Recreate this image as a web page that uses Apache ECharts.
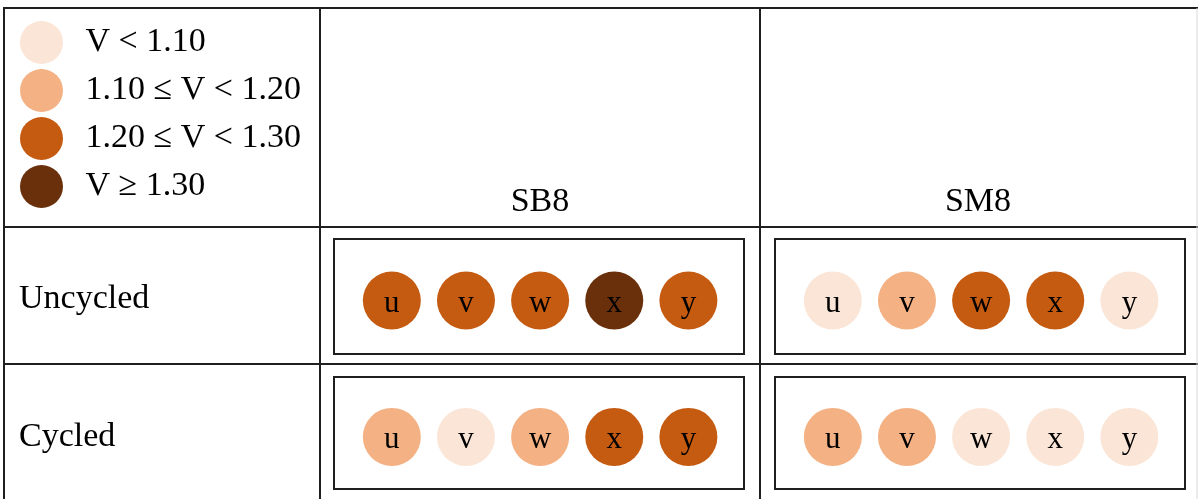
<!DOCTYPE html>
<html>
<head>
<meta charset="utf-8">
<script src="https://cdn.jsdelivr.net/npm/echarts@6/dist/echarts.min.js"></script>
<style>
html, body { margin: 0; background: #fff; }
#main { width: 1198px; height: 499px; }
</style>
</head>
<body>
<div id="main"></div>
<script>
const letters = ['u', 'v', 'w', 'x', 'y'];
const columns = ['SB8', 'SM8'];
const rows = ['Uncycled', 'Cycled'];
const levelLabels = ['V < 1.10', '1.10 ≤ V < 1.20', '1.20 ≤ V < 1.30', 'V ≥ 1.30'];
const levelColors = ['#fbe5d6', '#f4b183', '#c55a11', '#6a300c'];
// voltage class of each sample (index into levelLabels)
const sb8Uncycled = [2, 2, 2, 3, 2];
const sm8Uncycled = [0, 1, 2, 2, 0];
const sb8Cycled = [1, 0, 1, 2, 2];
const sm8Cycled = [1, 1, 0, 0, 0];

const font = '"Liberation Serif", "Times New Roman", serif';
const lineColor = '#1f1f1f';

const panels = [
  { data: sb8Uncycled, left: 334, top: 239, height: 115 },
  { data: sm8Uncycled, left: 775, top: 239, height: 115 },
  { data: sb8Cycled, left: 334, top: 377, height: 112 },
  { data: sm8Cycled, left: 775, top: 377, height: 112 }
];

const grid = panels.map(p => ({
  left: p.left, top: p.top, width: 410, height: p.height,
  show: true, borderColor: lineColor, borderWidth: 2, backgroundColor: '#fff'
}));
const xAxis = panels.map((p, i) => ({ type: 'value', gridIndex: i, min: -0.78, max: 4.75, show: false }));
const yAxis = panels.map((p, i) => ({ type: 'value', gridIndex: i, min: -1, max: 1.15, show: false }));

const series = panels.map((p, i) => ({
  type: 'scatter',
  xAxisIndex: i,
  yAxisIndex: i,
  symbol: 'circle',
  symbolSize: 58,
  itemStyle: { opacity: 1 },
  data: p.data.map((lv, k) => [k, 0, lv]),
  label: {
    show: true,
    position: 'inside',
    offset: [0, 3],
    formatter: prm => letters[prm.value[0]],
    fontSize: 31,
    fontFamily: font,
    color: '#000'
  },
  emphasis: { disabled: true }
}));

// table rules
function hLine(y, x1, x2) {
  return { type: 'line', shape: { x1: x1, y1: y, x2: x2, y2: y }, style: { stroke: lineColor, lineWidth: 2 }, silent: true };
}
function vLine(x, y1, y2) {
  return { type: 'line', shape: { x1: x, y1: y1, x2: x, y2: y2 }, style: { stroke: lineColor, lineWidth: 2 }, silent: true };
}
function txt(s, x, y, align) {
  return {
    type: 'text', x: x, y: y, silent: true,
    style: { text: s, font: '34px ' + font, fill: '#000', align: align, verticalAlign: 'middle' }
  };
}

const graphic = [
  hLine(8, 3, 1198), hLine(227, 3, 1198), hLine(364, 3, 1198),
  vLine(4, 7, 499), vLine(320, 7, 499), vLine(760, 7, 499),
  { type: 'line', shape: { x1: 1197, y1: 8, x2: 1197, y2: 499 }, style: { stroke: '#d8d8d8', lineWidth: 1 }, silent: true },
  txt(columns[0], 540, 202, 'center'),
  txt(columns[1], 978, 202, 'center'),
  txt(rows[0], 19, 299, 'left'),
  txt(rows[1], 19, 437, 'left')
];

const chart = echarts.init(document.getElementById('main'));
chart.setOption({
  backgroundColor: '#fff',
  animation: false,
  grid: grid,
  xAxis: xAxis,
  yAxis: yAxis,
  visualMap: {
    type: 'piecewise',
    orient: 'vertical',
    inverse: true,
    left: 5,
    top: 6,
    itemWidth: 44,
    itemHeight: 43,
    itemGap: 5,
    itemSymbol: 'circle',
    textGap: 22,
    hoverLink: false,
    selectedMode: false,
    dimension: 2,
    seriesIndex: [0, 1, 2, 3],
    textStyle: { fontSize: 34, fontFamily: font, color: '#000' },
    pieces: levelLabels.map((lab, i) => ({ value: i, label: lab, color: levelColors[i] }))
  },
  series: series,
  graphic: graphic
});
</script>
</body>
</html>
